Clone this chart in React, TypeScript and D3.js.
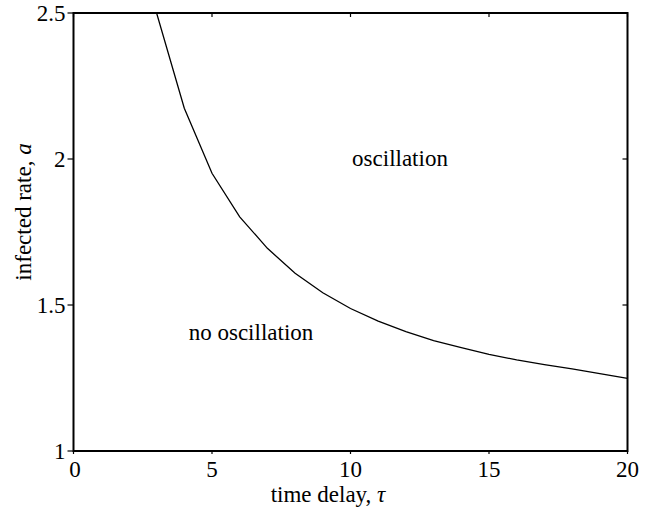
import React from "react";
import * as d3 from "d3";

const tau = [3, 4, 5, 6, 7, 8, 9, 10, 11, 12, 13, 14, 15, 16, 17, 18, 19, 20];
const rate = [2.5, 2.174, 1.951, 1.802, 1.694, 1.609, 1.542, 1.488, 1.445, 1.409, 1.378, 1.354, 1.331, 1.312, 1.296, 1.281, 1.265, 1.249];
const xTicks = [0, 5, 10, 15, 20];
const yTicks = [1, 1.5, 2, 2.5];
const yTickLabels = ["1", "1.5", "2", "2.5"];

const W = 652, H = 510;
const L = 73.5, R = 627.5, T = 13, B = 451;
const FONT = "'Liberation Serif', 'Times New Roman', serif";
const FS = 23;

export default function App() {
  const x = d3.scaleLinear().domain([0, 20]).range([L, R]);
  const y = d3.scaleLinear().domain([1, 2.5]).range([B, T]);
  const line = d3.line<number>().x((_, i) => x(tau[i])).y((d) => y(d));
  return (
    <svg width={W} height={H} style={{ position: "absolute", left: 0, top: 0, background: "#fff" }}>
      <defs>
        <clipPath id="pc"><rect x={L} y={T} width={R - L} height={B - T} /></clipPath>
      </defs>
      <path d={line(rate) || ""} fill="none" stroke="#000" strokeWidth={1.3} clipPath="url(#pc)" />
      <rect x={L} y={T} width={R - L} height={B - T} fill="none" stroke="#000" strokeWidth={2} />
      {xTicks.map((t) => (
        <g key={"x" + t}>
          <line x1={x(t)} x2={x(t)} y1={B} y2={B + 3} stroke="#000" strokeWidth={1.2} />
          <line x1={x(t)} x2={x(t)} y1={T} y2={T + 4} stroke="#000" strokeWidth={1.2} />
          <text x={x(t) + (t === 0 ? 1.5 : 0)} y={477} textAnchor="middle" fontFamily={FONT} fontSize={FS}>{t}</text>
        </g>
      ))}
      {yTicks.map((t, i) => (
        <g key={"y" + t}>
          <line x1={L - 6} x2={L} y1={y(t)} y2={y(t)} stroke="#000" strokeWidth={1.2} />
          <line x1={R - 5} x2={R} y1={y(t)} y2={y(t)} stroke="#000" strokeWidth={1.2} />
          <text x={L - 8} y={y(t) + 8} textAnchor="end" fontFamily={FONT} fontSize={FS}>{yTickLabels[i]}</text>
        </g>
      ))}
      <text x={328} y={502} textAnchor="middle" fontFamily={FONT} fontSize={FS}>
        time delay, <tspan fontStyle="italic">τ</tspan>
      </text>
      <text transform={`translate(31, 212) rotate(-90)`} textAnchor="middle" fontFamily={FONT} fontSize={FS}>
        infected rate, <tspan fontStyle="italic">a</tspan>
      </text>
      <text x={400} y={166} textAnchor="middle" fontFamily={FONT} fontSize={FS}>oscillation</text>
      <text x={251} y={340} textAnchor="middle" fontFamily={FONT} fontSize={FS}>no oscillation</text>
    </svg>
  );
}
